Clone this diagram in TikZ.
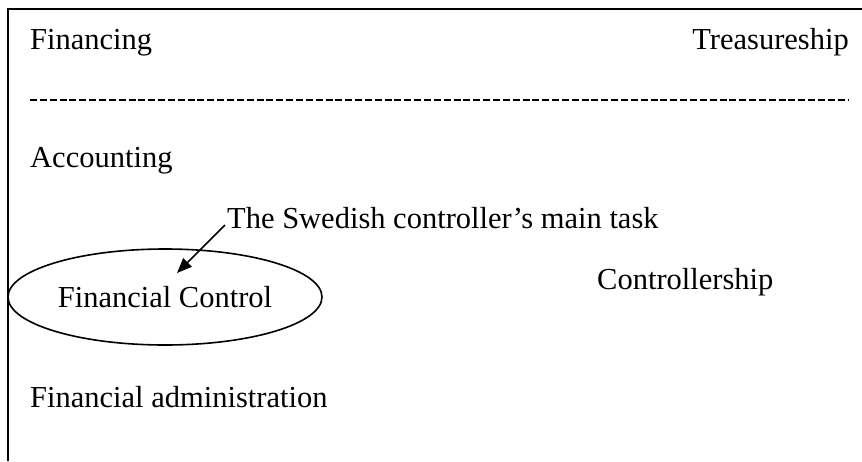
\documentclass[tikz,border=0pt]{standalone}
\usepackage{fontspec}
\setmainfont{Liberation Serif}
\usetikzlibrary{arrows.meta,shapes.geometric}

\begin{document}
\begin{tikzpicture}[x=1pt,y=-1pt,
  lbl/.style={inner sep=0, font=\fontsize{30.5}{36}\selectfont},
  frame/.style={line width=2pt}]
\useasboundingbox (0,0) rectangle (862,461);
\draw[frame] (8,461) - - (8,9) - - (862,9);
\node[lbl, anchor=base west] (fin) at (30,49) {Financing};
\node[lbl, anchor=base east] (tre) at (849,49) {Treasureship};
\draw[line width=2pt, dash pattern=on 7pt off 2.85pt] (30,100) - - (848,100);
\node[lbl, anchor=base west] (acc) at (30,167) {Accounting};
\node[lbl, anchor=base west] (task) at (227,228) {The Swedish controller's main task};
\node[lbl, draw, line width=1.6pt, ellipse, minimum width=314pt, minimum height=96pt] (fctrl) at (165,297) {Financial Control};
\node[lbl, anchor=base west] (ctrl) at (597,289) {Controllership};
\node[lbl, anchor=base west] (adm) at (30,407) {Financial administration};
\coordinate (tip) at (177,273);
\draw[line width=1.6pt, -{Triangle[length=15pt,width=12pt]}] ([xshift=-2pt,yshift=3pt]task.base west) - - (tip);
\end{tikzpicture}
\end{document}
